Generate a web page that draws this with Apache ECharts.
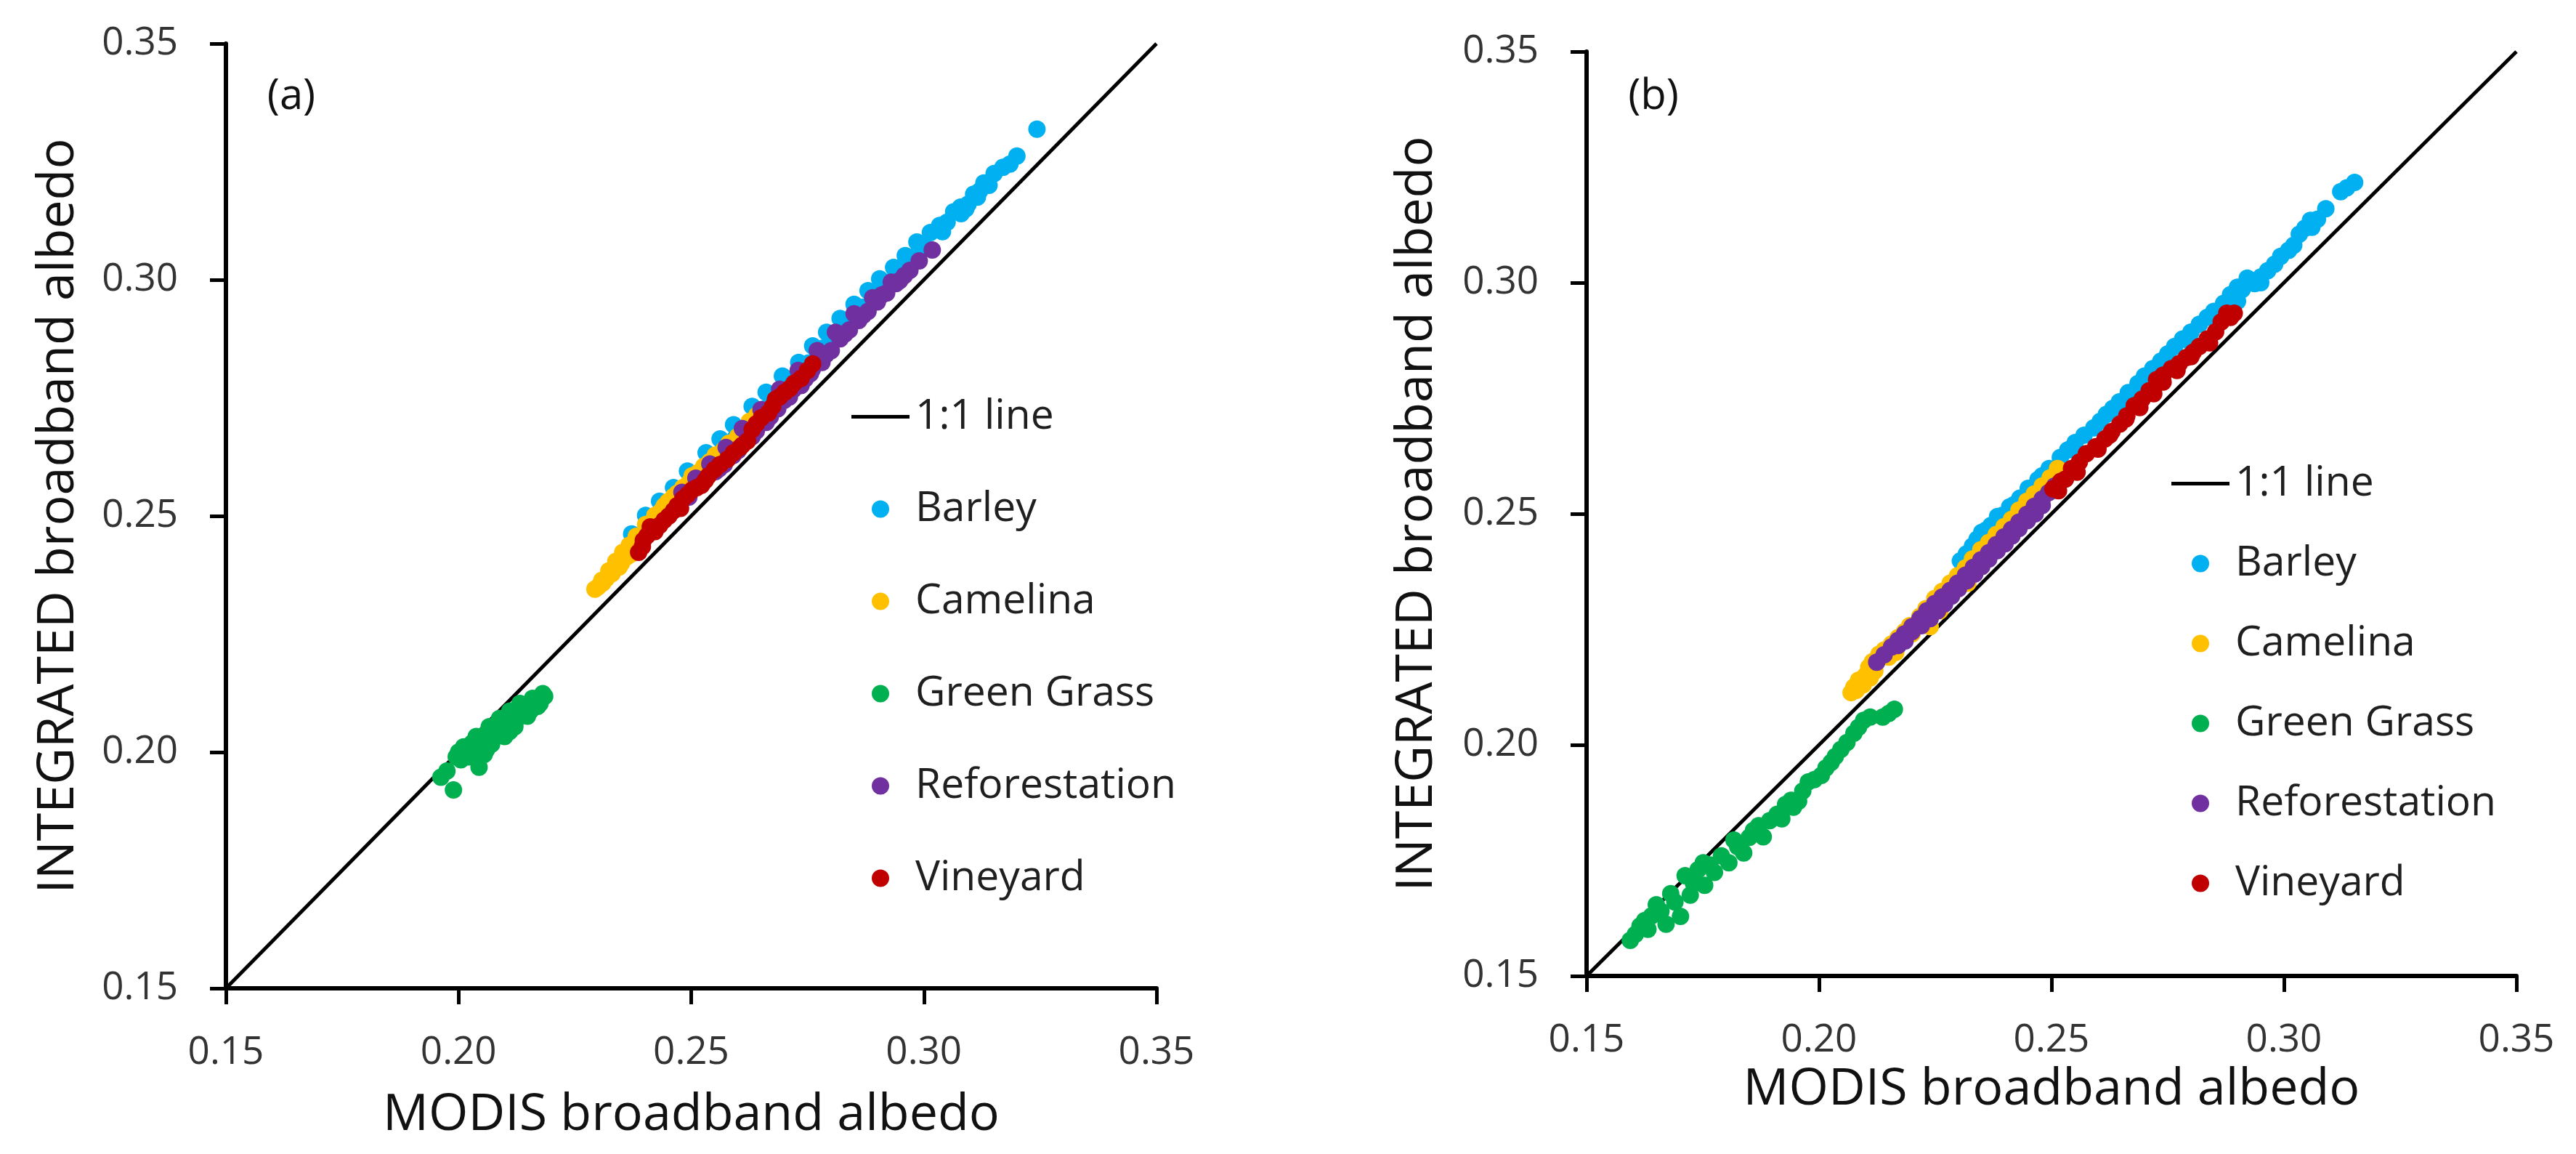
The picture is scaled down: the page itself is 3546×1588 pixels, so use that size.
<!DOCTYPE html>
<html>
<head>
<meta charset="utf-8">
<script src="https://cdn.jsdelivr.net/npm/echarts@6/dist/echarts.min.js"></script>
<style>
html,body{margin:0;padding:0;background:#fff;}
#chart{width:3546px;height:1588px;}
</style>
</head>
<body>
<div id="chart"></div>
<script>
// ---------- DATA ----------
var seriesNames = ['Barley', 'Camelina', 'Green Grass', 'Reforestation', 'Vineyard'];
var lineName = '1:1 line';
var tickValues = [0.15, 0.20, 0.25, 0.30, 0.35];
var oneToOne = [[0.15, 0.15], [0.35, 0.35]];

// Panel (a)
var barleyA = [[0.3243,0.3319],[0.3151,0.3225],[0.3129,0.3205],[0.3107,0.3181],[0.3079,0.3154],[0.3064,0.3144],[0.3034,0.3115],[0.3014,0.3100],[0.2990,0.3061],[0.2985,0.3080],[0.2960,0.3051],[0.2935,0.3026],[0.2905,0.3002],[0.2880,0.2977],[0.2850,0.2948],[0.2820,0.2918],[0.2791,0.2889],[0.2761,0.2860],[0.2731,0.2825],[0.2696,0.2796],[0.2661,0.2762],[0.2631,0.2732],[0.2591,0.2693],[0.2562,0.2663],[0.2532,0.2634],[0.2492,0.2595],[0.2462,0.2560],[0.2432,0.2531],[0.2402,0.2501],[0.2372,0.2462],[0.2970,0.3030],[0.2945,0.3008],[0.2918,0.2985],[0.2890,0.2958],[0.2862,0.2930],[0.2835,0.2902],[0.2805,0.2875],[0.2775,0.2845],[0.2745,0.2812],[0.2712,0.2780],[0.2680,0.2745],[0.2648,0.2713],[0.2615,0.2680],[0.2580,0.2648],[0.2548,0.2616],[0.2515,0.2583],[0.2480,0.2550],[0.2448,0.2517],[0.2415,0.2485],[0.3050,0.3122],[0.3095,0.3160],[0.3185,0.3245],[0.3140,0.3200],[0.3200,0.3262],[0.3170,0.3238],[0.3120,0.3188],[0.3080,0.3140],[0.3040,0.3102],[0.3000,0.3070],[0.2975,0.3045],[0.2950,0.3020],[0.2925,0.2995],[0.2895,0.2970],[0.2868,0.2942],[0.2840,0.2912],[0.2812,0.2885],[0.2782,0.2855],[0.2752,0.2824],[0.2722,0.2793],[0.2690,0.2760],[0.2656,0.2726],[0.2625,0.2696],[0.2595,0.2665],[0.2565,0.2634],[0.2535,0.2604],[0.2505,0.2574],[0.2475,0.2542],[0.2445,0.2512],[0.2410,0.2478],[0.2385,0.2455],[0.3115,0.3175],[0.3090,0.3150]];
var camelinaA = [[0.2293,0.2345],[0.2308,0.2364],[0.2323,0.2384],[0.2338,0.2404],[0.2353,0.2423],[0.2367,0.2438],[0.2382,0.2457],[0.2402,0.2482],[0.2422,0.2501],[0.2442,0.2521],[0.2462,0.2541],[0.2482,0.2560],[0.2502,0.2585],[0.2527,0.2605],[0.2552,0.2629],[0.2581,0.2654],[0.2611,0.2683],[0.2641,0.2713],[0.2300,0.2350],[0.2318,0.2368],[0.2345,0.2392],[0.2372,0.2420],[0.2395,0.2448],[0.2430,0.2480],[0.2455,0.2505],[0.2490,0.2540],[0.2520,0.2575],[0.2560,0.2610],[0.2310,0.2358],[0.2330,0.2378],[0.2350,0.2400],[0.2362,0.2414],[0.2378,0.2432],[0.2390,0.2447],[0.2410,0.2465],[0.2418,0.2490],[0.2435,0.2510],[0.2450,0.2530],[0.2470,0.2548],[0.2495,0.2570],[0.2515,0.2592],[0.2540,0.2615],[0.2570,0.2640],[0.2600,0.2668],[0.2625,0.2700]];
var greenA = [[0.1962,0.1947],[0.1989,0.1920],[0.1995,0.1990],[0.2011,0.2011],[0.2038,0.2033],[0.2044,0.1968],[0.2055,0.1995],[0.2066,0.2054],[0.2071,0.2017],[0.2088,0.2071],[0.2099,0.2033],[0.2110,0.2087],[0.2121,0.2054],[0.2132,0.2103],[0.2148,0.2076],[0.2159,0.2114],[0.2170,0.2097],[0.2181,0.2124],[0.2022,0.1990],[0.2082,0.2044],[0.2110,0.2044],[0.2142,0.2097],[0.2175,0.2103],[0.2049,0.2022],[0.2005,0.1984],[0.1975,0.1960],[0.2000,0.2000],[0.2030,0.2020],[0.2060,0.2040],[0.2090,0.2060],[0.2120,0.2080],[0.2150,0.2100],[0.2165,0.2110],[0.2185,0.2118],[0.2035,0.2000],[0.2065,0.2030],[0.2095,0.2050],[0.2125,0.2070],[0.2155,0.2088],[0.2015,0.2000],[0.2060,0.2005],[0.2100,0.2070],[0.2140,0.2085]];
var reforestA = [[0.3018,0.3063],[0.2958,0.3009],[0.2940,0.2992],[0.2920,0.2972],[0.2900,0.2953],[0.2880,0.2933],[0.2860,0.2914],[0.2840,0.2894],[0.2820,0.2875],[0.2801,0.2850],[0.2781,0.2825],[0.2756,0.2801],[0.2736,0.2776],[0.2711,0.2752],[0.2686,0.2727],[0.2661,0.2698],[0.2631,0.2668],[0.2601,0.2639],[0.2571,0.2609],[0.2552,0.2594],[0.2930,0.2995],[0.2890,0.2962],[0.2850,0.2928],[0.2810,0.2889],[0.2771,0.2850],[0.2730,0.2808],[0.2690,0.2768],[0.2650,0.2725],[0.2610,0.2685],[0.2575,0.2645],[0.2540,0.2610],[0.2510,0.2580],[0.2480,0.2550],[0.2990,0.3040],[0.2970,0.3020],[0.2948,0.2998],[0.2910,0.2968],[0.2870,0.2925],[0.2830,0.2885],[0.2790,0.2842],[0.2760,0.2810],[0.2745,0.2790],[0.2720,0.2768],[0.2700,0.2745],[0.2670,0.2710],[0.2640,0.2680],[0.2620,0.2660],[0.2590,0.2628],[0.2560,0.2600],[0.2525,0.2570],[0.2495,0.2540]];
var vineyardA = [[0.2761,0.2822],[0.2736,0.2791],[0.2721,0.2781],[0.2701,0.2762],[0.2681,0.2747],[0.2666,0.2718],[0.2651,0.2708],[0.2631,0.2683],[0.2621,0.2659],[0.2591,0.2634],[0.2562,0.2609],[0.2537,0.2585],[0.2522,0.2565],[0.2502,0.2555],[0.2482,0.2536],[0.2462,0.2511],[0.2442,0.2491],[0.2422,0.2467],[0.2397,0.2448],[0.2387,0.2423],[0.2412,0.2477],[0.2477,0.2516],[0.2750,0.2808],[0.2712,0.2770],[0.2690,0.2752],[0.2675,0.2732],[0.2640,0.2695],[0.2610,0.2650],[0.2605,0.2645],[0.2578,0.2620],[0.2550,0.2598],[0.2530,0.2575],[0.2512,0.2560],[0.2492,0.2545],[0.2470,0.2522],[0.2452,0.2500],[0.2432,0.2480],[0.2405,0.2458],[0.2395,0.2435]];

// Panel (b)
var barleyB = [[0.3152,0.3217],[0.3122,0.3197],[0.3072,0.3137],[0.3057,0.3135],[0.3033,0.3105],[0.3021,0.3081],[0.2993,0.3057],[0.2965,0.3026],[0.2937,0.2998],[0.2921,0.3010],[0.2885,0.2974],[0.2849,0.2938],[0.2818,0.2910],[0.2782,0.2878],[0.2750,0.2846],[0.2718,0.2814],[0.2686,0.2782],[0.2646,0.2742],[0.2618,0.2715],[0.2591,0.2686],[0.2551,0.2654],[0.2519,0.2622],[0.2471,0.2574],[0.2432,0.2534],[0.2384,0.2494],[0.2350,0.2460],[0.2304,0.2398],[0.2395,0.2497],[0.2950,0.3000],[0.2900,0.2960],[0.2860,0.2920],[0.2800,0.2870],[0.2740,0.2810],[0.3135,0.3205],[0.3090,0.3160],[0.3060,0.3120],[0.3045,0.3118],[0.3010,0.3070],[0.2980,0.3040],[0.2950,0.3012],[0.2910,0.2985],[0.2900,0.2990],[0.2870,0.2955],[0.2835,0.2925],[0.2800,0.2893],[0.2765,0.2862],[0.2735,0.2830],[0.2700,0.2798],[0.2665,0.2762],[0.2632,0.2728],[0.2605,0.2700],[0.2570,0.2670],[0.2535,0.2638],[0.2495,0.2598],[0.2450,0.2555],[0.2410,0.2515],[0.2370,0.2475],[0.2330,0.2430],[0.2317,0.2413],[0.2340,0.2445],[0.2360,0.2465],[0.2420,0.2520],[0.2480,0.2582],[0.2540,0.2640]];
var camelinaB = [[0.2069,0.2113],[0.2085,0.2140],[0.2107,0.2168],[0.2129,0.2196],[0.2156,0.2218],[0.2184,0.2245],[0.2217,0.2278],[0.2249,0.2317],[0.2282,0.2350],[0.2315,0.2383],[0.2348,0.2422],[0.2381,0.2455],[0.2414,0.2488],[0.2447,0.2527],[0.2480,0.2560],[0.2513,0.2598],[0.2095,0.2130],[0.2120,0.2160],[0.2150,0.2190],[0.2239,0.2256],[0.2200,0.2240],[0.2075,0.2125],[0.2100,0.2150],[0.2115,0.2180],[0.2140,0.2205],[0.2170,0.2232],[0.2195,0.2258],[0.2230,0.2295],[0.2265,0.2332],[0.2298,0.2366],[0.2330,0.2402],[0.2365,0.2438],[0.2398,0.2472],[0.2430,0.2508],[0.2463,0.2543],[0.2497,0.2578],[0.2080,0.2118],[0.2110,0.2145],[0.2165,0.2200],[0.2260,0.2290],[0.2320,0.2350]];
var greenB = [[0.1594,0.1577],[0.1615,0.1608],[0.1632,0.1601],[0.1650,0.1654],[0.1671,0.1612],[0.1681,0.1678],[0.1702,0.1629],[0.1712,0.1717],[0.1723,0.1675],[0.1751,0.1745],[0.1754,0.1696],[0.1775,0.1724],[0.1806,0.1745],[0.1817,0.1794],[0.1838,0.1766],[0.1859,0.1815],[0.1880,0.1801],[0.1894,0.1836],[0.1928,0.1871],[0.1956,0.1878],[0.1977,0.1920],[0.2005,0.1934],[0.2026,0.1962],[0.2047,0.1990],[0.2075,0.2025],[0.2096,0.2053],[0.2137,0.2060],[0.2162,0.2077],[0.1605,0.1590],[0.1625,0.1620],[0.1640,0.1630],[0.1660,0.1640],[0.1690,0.1660],[0.1730,0.1700],[0.1740,0.1730],[0.1765,0.1740],[0.1790,0.1760],[0.1825,0.1780],[0.1850,0.1800],[0.1870,0.1825],[0.1910,0.1850],[0.1940,0.1880],[0.1965,0.1900],[0.1990,0.1925],[0.2015,0.1950],[0.2035,0.1975],[0.2060,0.2005],[0.2085,0.2038],[0.2110,0.2060],[0.2150,0.2068],[0.1945,0.1865],[0.1920,0.1840]];
var reforestB = [[0.2124,0.2179],[0.2156,0.2212],[0.2184,0.2240],[0.2217,0.2273],[0.2249,0.2306],[0.2282,0.2334],[0.2315,0.2367],[0.2348,0.2400],[0.2381,0.2433],[0.2414,0.2466],[0.2447,0.2499],[0.2480,0.2532],[0.2507,0.2560],[0.2170,0.2215],[0.2200,0.2245],[0.2239,0.2273],[0.2270,0.2305],[0.2300,0.2338],[0.2335,0.2370],[0.2365,0.2402],[0.2400,0.2435],[0.2430,0.2468],[0.2465,0.2500],[0.2140,0.2195],[0.2170,0.2226],[0.2200,0.2256],[0.2232,0.2290],[0.2265,0.2320],[0.2298,0.2350],[0.2332,0.2384],[0.2365,0.2416],[0.2398,0.2450],[0.2430,0.2482],[0.2463,0.2516],[0.2494,0.2546],[0.2520,0.2570],[0.2185,0.2225],[0.2220,0.2258],[0.2255,0.2290],[0.2285,0.2322],[0.2318,0.2355],[0.2350,0.2386],[0.2383,0.2420],[0.2415,0.2452],[0.2448,0.2485],[0.2480,0.2518]];
var vineyardB = [[0.2503,0.2554],[0.2543,0.2598],[0.2575,0.2630],[0.2615,0.2662],[0.2647,0.2694],[0.2678,0.2734],[0.2710,0.2766],[0.2726,0.2790],[0.2758,0.2814],[0.2790,0.2838],[0.2818,0.2862],[0.2853,0.2894],[0.2877,0.2934],[0.2893,0.2934],[0.2530,0.2575],[0.2600,0.2640],[0.2660,0.2705],[0.2740,0.2785],[0.2520,0.2570],[0.2560,0.2612],[0.2595,0.2645],[0.2630,0.2678],[0.2662,0.2712],[0.2695,0.2748],[0.2740,0.2800],[0.2775,0.2825],[0.2805,0.2850],[0.2835,0.2878],[0.2865,0.2915],[0.2885,0.2925],[0.2515,0.2550],[0.2555,0.2590],[0.2625,0.2670],[0.2690,0.2730],[0.2720,0.2760],[0.2770,0.2810],[0.2800,0.2840],[0.2840,0.2870]];

var colors = ['#00B0F0', '#FFC000', '#00B050', '#7030A0', '#C00000'];
var panelData = [
  [barleyA, camelinaA, greenA, reforestA, vineyardA],
  [barleyB, camelinaB, greenB, reforestB, vineyardB]
];

// ---------- CHART ----------
var FONT = 'Open Sans';
var chart = echarts.init(document.getElementById('chart'), null, {renderer: 'canvas'});

function mkX(idx, gap) {
  return {
    gridIndex: idx, type: 'value', min: 0.15, max: 0.35, interval: 0.05,
    name: 'MODIS broadband albedo', nameLocation: 'middle', nameGap: gap,
    nameTextStyle: {fontFamily: FONT, fontSize: 70, color: '#111'},
    axisLine: {onZero: false, lineStyle: {color: '#000', width: 6}},
    axisTick: {show: true, length: 22, lineStyle: {color: '#000', width: 5}},
    axisLabel: {margin: 62, fontFamily: FONT, fontSize: 53, color: '#333',
      formatter: function (v) { return v.toFixed(2); }},
    splitLine: {show: false}
  };
}
function mkY(idx, gap) {
  return {
    gridIndex: idx, type: 'value', min: 0.15, max: 0.35, interval: 0.05,
    name: 'INTEGRATED broadband albedo', nameLocation: 'middle', nameGap: gap,
    nameTextStyle: {fontFamily: FONT, fontSize: 70, color: '#111'},
    axisLine: {onZero: false, lineStyle: {color: '#000', width: 6}},
    axisTick: {show: true, length: 22, lineStyle: {color: '#000', width: 5}},
    axisLabel: {margin: 66, fontFamily: FONT, fontSize: 53, color: '#333',
      formatter: function (v) { return v.toFixed(2); }},
    splitLine: {show: false}
  };
}

var series = [];
for (var p = 0; p < 2; p++) {
  series.push({
    name: lineName, type: 'line', xAxisIndex: p, yAxisIndex: p,
    data: oneToOne, symbol: 'none', silent: true,
    lineStyle: {color: '#000', width: 5}, itemStyle: {color: '#000'}, z: 1
  });
  for (var s = 0; s < seriesNames.length; s++) {
    series.push({
      name: seriesNames[s], type: 'scatter', xAxisIndex: p, yAxisIndex: p,
      data: panelData[p][s], symbol: 'circle', symbolSize: 24,
      itemStyle: {color: colors[s], opacity: 1}, z: 2 + s
    });
  }
}

var legendNames = [lineName].concat(seriesNames);
function mkLegend(left, top, gap) {
  return {
    orient: 'vertical', left: left, top: top, itemWidth: 80, itemHeight: 24, itemGap: gap,
    selectedMode: false,
    data: legendNames.map(function (n) {
      return n === lineName ? {name: n, icon: 'path://M0,0L80,0L80,5L0,5Z', itemStyle: {color: '#000'}} : {name: n, icon: 'circle'};
    }),
    textStyle: {fontFamily: FONT, fontSize: 57, color: '#1f1f1f', padding: [0, 0, 0, 3]}
  };
}

chart.setOption({
  animation: false,
  backgroundColor: '#fff',
  color: colors,
  grid: [
    {left: 311, top: 60, width: 1281, height: 1300, containLabel: false},
    {left: 2184, top: 71, width: 1280, height: 1272, containLabel: false}
  ],
  xAxis: [mkX(0, 140), mkX(1, 122)],
  yAxis: [mkY(0, 195), mkY(1, 198)],
  legend: [mkLegend(1167, 540, 70), mkLegend(2984, 632, 53)],
  graphic: [
    {type: 'text', x: 401, y: 133, style: {text: '(a)', font: '58px "Open Sans"', fill: '#111', textAlign: 'center', textVerticalAlign: 'middle'}},
    {type: 'text', x: 2276, y: 133, style: {text: '(b)', font: '58px "Open Sans"', fill: '#111', textAlign: 'center', textVerticalAlign: 'middle'}}
  ],
  series: series
});
</script>
</body>
</html>
